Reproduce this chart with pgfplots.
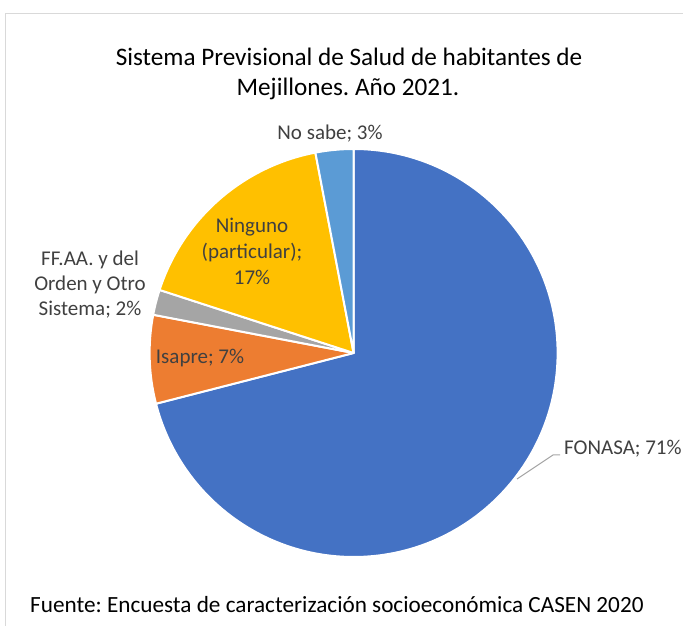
\documentclass[border=0pt]{standalone}
\usepackage{pgfplots}
\pgfplotsset{compat=1.18}
\usepackage{pgfplotstable}
\usepackage{fontspec}
\setmainfont{Carlito}
\definecolor{pie0}{HTML}{4472C4}
\definecolor{pie1}{HTML}{ED7D31}
\definecolor{pie2}{HTML}{A5A5A5}
\definecolor{pie3}{HTML}{FFC000}
\definecolor{pie4}{HTML}{5B9BD5}
\definecolor{lbl}{HTML}{404040}
\definecolor{framec}{HTML}{D9D9D9}
\definecolor{leader}{HTML}{A6A6A6}

\pgfplotstableread{
label value
FONASA 71
Isapre 7
FFAA 2
Ninguno 17
NoSabe 3
}\piedata

\begin{document}
\frenchspacing
\xdef\acc{90}%
\foreach \i in {0,...,4}{%
  \pgfplotstablegetelem{\i}{value}\of\piedata
  \pgfmathsetmacro{\e}{\acc-3.6*\pgfplotsretval}%
  \expandafter\xdef\csname sa\i\endcsname{\acc}%
  \expandafter\xdef\csname ea\i\endcsname{\e}%
  \xdef\acc{\e}%
}%
\begin{tikzpicture}[x=1pt,y=1pt]
\useasboundingbox (0,0) rectangle (683,626);
\draw[framec, line width=1pt] (5,-20) -- (5,612) -- (700,612);
\begin{axis}[at={(0,0)}, anchor=origin, x=1pt, y=1pt,
  xmin=0, xmax=683, ymin=0, ymax=626, hide axis, clip=false]
\pgfplotsinvokeforeach{0,...,4}{%
  \fill[pie#1, draw=white, line width=2pt, line join=round]
    (axis cs:353.6,273) -- ++({\csname sa#1\endcsname}:204pt)
    arc[start angle={\csname sa#1\endcsname}, end angle={\csname ea#1\endcsname}, radius=204pt] -- cycle;
}
\end{axis}
% title
\node[anchor=base, font=\fontsize{25.2}{30}\selectfont] at (349,560) {Sistema Previsional de Salud de habitantes de};
\node[anchor=base, font=\fontsize{25.2}{30}\selectfont] at (348,530) {Mejillones. Año 2021.};
% data labels
\node[lbl, font=\fontsize{21}{25}\selectfont] at (330,492) {No sabe; 3\%};
\node[lbl, align=center, font=\fontsize{21}{26}\selectfont] at (252,375) {Ninguno\\(particular);\\17\%};
\node[lbl, align=center, font=\fontsize{21}{25}\selectfont] at (90,341) {FF.AA. y del\\Orden y Otro\\Sistema; 2\%};
\node[lbl, font=\fontsize{21}{25}\selectfont] at (200,268) {Isapre; 7\%};
\draw[leader, line width=1pt] (517,147) -- (553,171) -- (560,171);
\node[lbl, anchor=west, inner sep=0pt, font=\fontsize{21}{25}\selectfont] at (564,177) {FONASA; 71\%};
% footer
\node[anchor=base west, inner sep=0pt, font=\fontsize{23.2}{27}\selectfont] at (30,13) {Fuente: Encuesta de caracterización socioeconómica CASEN 2020};
\end{tikzpicture}
\end{document}
